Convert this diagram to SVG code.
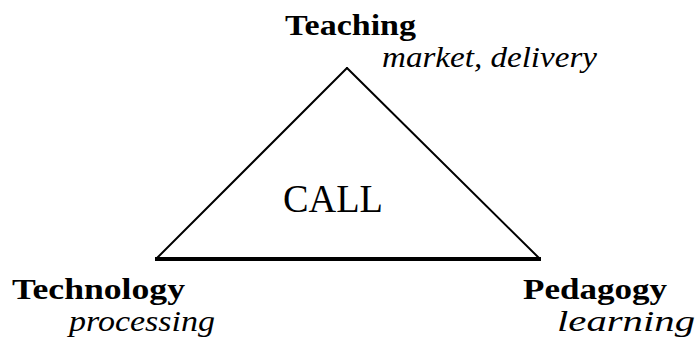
<svg xmlns="http://www.w3.org/2000/svg" width="699" height="344" viewBox="0 0 699 344">
<style>
.b{font-family:"Liberation Serif","Times New Roman",serif;font-weight:bold;font-size:29px;fill:#000}
.i{font-family:"Liberation Serif","Times New Roman",serif;font-style:italic;font-size:29px;fill:#000}
.c{font-family:"Liberation Serif","Times New Roman",serif;font-size:41px;fill:#000}
.side{stroke:#000;stroke-width:2;fill:none;stroke-linecap:round}
.base{stroke:#000;stroke-width:4;fill:none}
</style>
<rect width="699" height="344" fill="#fff"/>
<g id="connectors">
<line class="side" x1="156" y1="259" x2="347" y2="68"/>
<line class="side" x1="347" y1="68" x2="540" y2="259"/>
<line class="base" x1="155" y1="259" x2="541" y2="259"/>
</g>
<g id="call"><text class="c" x="283" y="212" textLength="100" lengthAdjust="spacingAndGlyphs">CALL</text></g>
<g id="teaching">
<text class="b" x="285" y="35" textLength="131" lengthAdjust="spacingAndGlyphs">Teaching</text>
<text class="i" x="382" y="67" textLength="215" lengthAdjust="spacingAndGlyphs">market, delivery</text>
</g>
<g id="technology">
<text class="b" x="12" y="299" textLength="173" lengthAdjust="spacingAndGlyphs">Technology</text>
<text class="i" x="69" y="331" textLength="146" lengthAdjust="spacingAndGlyphs">processing</text>
</g>
<g id="pedagogy">
<text class="b" x="523" y="299" textLength="144" lengthAdjust="spacingAndGlyphs">Pedagogy</text>
<text class="i" x="557" y="331" textLength="138" lengthAdjust="spacingAndGlyphs">learning</text>
</g>
</svg>
